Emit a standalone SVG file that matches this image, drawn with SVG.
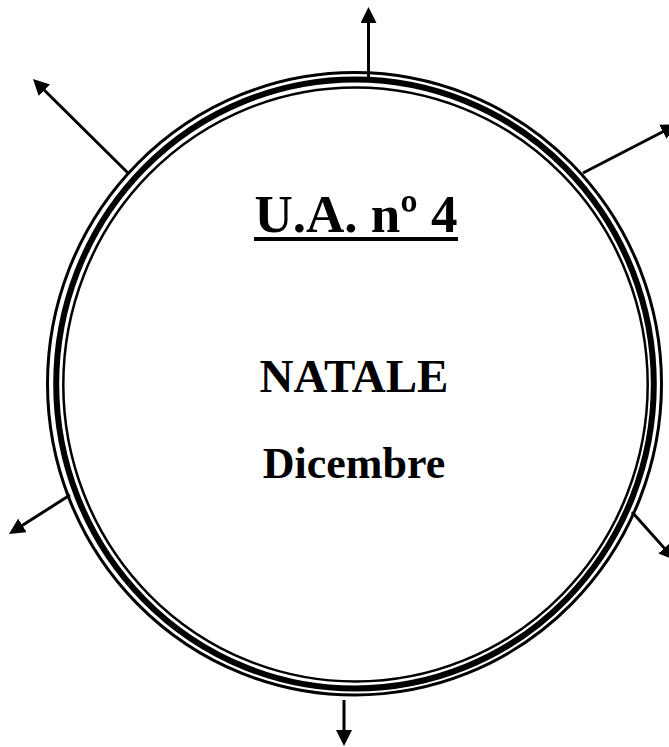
<svg xmlns="http://www.w3.org/2000/svg" width="669" height="747" viewBox="0 0 669 747">
<style>
.ring{fill:none;stroke:#000}
.conn{stroke:#000;stroke-width:3;fill:none;marker-end:url(#ah)}
.t{font-family:"Liberation Serif","Times New Roman",serif;font-weight:bold;fill:#000;text-anchor:middle}
</style>
<defs>
<marker id="ah" markerWidth="16" markerHeight="16" refX="6" refY="8" orient="auto" markerUnits="userSpaceOnUse" viewBox="0 0 16 16">
<path d="M0,0 L16,8 L0,16 Z" fill="#000"/>
</marker>
</defs>
<rect width="669" height="747" fill="#fff"/>
<g id="center">
<ellipse class="ring" cx="354.5" cy="383.8" rx="307" ry="311.2" stroke-width="3"/>
<ellipse class="ring" cx="355" cy="384" rx="298.8" ry="304.5" stroke-width="6"/>
<ellipse class="ring" cx="355.5" cy="384.5" rx="292.2" ry="297" stroke-width="2.5"/>
<text class="t" x="356" y="232" font-size="53">U.A. nº 4</text>
<rect x="254" y="237" width="204" height="4" fill="#000"/>
<text class="t" x="354" y="392" font-size="47">NATALE</text>
<text class="t" x="354" y="478" font-size="44">Dicembre</text>
</g>
<g id="connectors">
<line class="conn" x1="368.5" y1="78" x2="368.5" y2="17"/>
<line class="conn" x1="128" y1="173" x2="40.1" y2="86"/>
<line class="conn" x1="583" y1="173" x2="668.1" y2="129"/>
<line class="conn" x1="70" y1="495" x2="17.4" y2="528.6"/>
<line class="conn" x1="632" y1="512" x2="668.3" y2="552.6"/>
<line class="conn" x1="344" y1="700" x2="344" y2="736"/>
</g>
</svg>
